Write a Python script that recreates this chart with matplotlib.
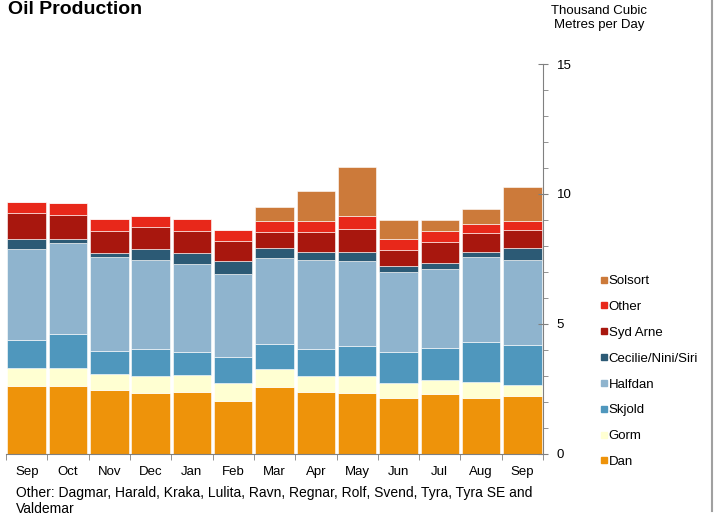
import numpy as np
import matplotlib.pyplot as plt
from matplotlib.lines import Line2D

plt.rcParams['font.family'] = ['Liberation Sans', 'DejaVu Sans']

months = ['Sep', 'Oct', 'Nov', 'Dec', 'Jan', 'Feb', 'Mar', 'Apr', 'May', 'Jun', 'Jul', 'Aug', 'Sep']

# Hauteurs des segments (milliers de m3/jour)
dan      = [2.63, 2.63, 2.47, 2.33, 2.40, 2.04, 2.56, 2.40, 2.33, 2.17, 2.29, 2.17, 2.23]
gorm     = [0.67, 0.67, 0.59, 0.67, 0.63, 0.68, 0.70, 0.61, 0.68, 0.55, 0.56, 0.61, 0.42]
skjold   = [1.08, 1.33, 0.91, 1.03, 0.88, 1.02, 0.96, 1.02, 1.14, 1.19, 1.24, 1.54, 1.54]
halfdan  = [3.49, 3.50, 3.62, 3.43, 3.38, 3.20, 3.31, 3.43, 3.27, 3.08, 3.03, 3.27, 3.27]
cecilie  = [0.39, 0.13, 0.15, 0.41, 0.43, 0.47, 0.38, 0.32, 0.36, 0.25, 0.21, 0.19, 0.45]
syd_arne = [1.00, 0.93, 0.85, 0.85, 0.87, 0.78, 0.64, 0.77, 0.87, 0.61, 0.81, 0.71, 0.71]
other    = [0.45, 0.45, 0.45, 0.45, 0.45, 0.43, 0.41, 0.41, 0.50, 0.41, 0.44, 0.36, 0.34]
solsort  = [0, 0, 0, 0, 0, 0, 0.55, 1.17, 1.88, 0.74, 0.42, 0.56, 1.32]

series = [
    ('Dan', dan, '#ee930a'),
    ('Gorm', gorm, '#ffffd2'),
    ('Skjold', skjold, '#4f97bd'),
    ('Halfdan', halfdan, '#8fb4ce'),
    ('Cecilie/Nini/Siri', cecilie, '#2c5a75'),
    ('Syd Arne', syd_arne, '#a8170e'),
    ('Other', other, '#e8281a'),
    ('Solsort', solsort, '#cc7a3a'),
]

fig = plt.figure(figsize=(7.18, 5.17), dpi=100)
ax = fig.add_axes([0.0084, 0.1219, 0.748, 0.7543])

x = np.arange(len(months))
bottom = np.zeros(len(months))
handles = []
for name, vals, col in series:
    vals = np.array(vals)
    ax.bar(x, vals, width=0.93, bottom=bottom, color=col, edgecolor='white', linewidth=0.4)
    bottom += vals
    handles.append(Line2D([], [], marker='s', linestyle='none', markersize=5,
                          markerfacecolor=col, markeredgecolor=col, label=name))

ax.set_xlim(-0.5, len(months) - 0.5)
ax.set_ylim(0, 15)

# Axe y a droite
ax.yaxis.tick_right()
ax.set_yticks([0, 5, 10, 15])
ax.set_yticks(np.arange(0, 16, 1), minor=True)
ax.tick_params(axis='y', which='major', direction='inout', length=7.5, color='#808080',
               labelsize=9.5, pad=6)
ax.tick_params(axis='y', which='minor', direction='out', length=3.6, color='#808080')

# Axe x : traits aux limites des mois
ax.set_xticks(x)
ax.set_xticklabels(months)
ax.set_xticks(np.arange(-0.5, len(months), 1), minor=True)
ax.tick_params(axis='x', which='major', length=0, labelsize=9.5, pad=8.5)
ax.tick_params(axis='x', which='minor', direction='out', length=4, color='#808080')

for s in ['top', 'left']:
    ax.spines[s].set_visible(False)
ax.spines['right'].set_color('#808080')
ax.spines['bottom'].set_color('#808080')

fig.text(0.011, 0.999, 'Oil Production', fontsize=14, fontweight='bold', va='top', ha='left')
fig.text(0.834, 0.990, 'Thousand Cubic\nMetres per Day', fontsize=9.5, ha='center', va='top',
         linespacing=1.15)
fig.text(0.022, 0.06, 'Other: Dagmar, Harald, Kraka, Lulita, Ravn, Regnar, Rolf, Svend, Tyra, Tyra SE and\nValdemar',
         fontsize=10, ha='left', va='top', linespacing=1.15)

fig.legend(handles=handles[::-1], loc='upper left', bbox_to_anchor=(0.836, 0.468),
           frameon=False, fontsize=9.5, handlelength=0.55, handletextpad=0.1,
           labelspacing=1.03, borderpad=0, borderaxespad=0)

# Cadre a droite de l'image
fig.add_artist(Line2D([0.992, 0.992], [0.012, 1.0], color='#a0a0a0', linewidth=1.5,
                      transform=fig.transFigure))

fig.savefig('out.png', dpi=100)
